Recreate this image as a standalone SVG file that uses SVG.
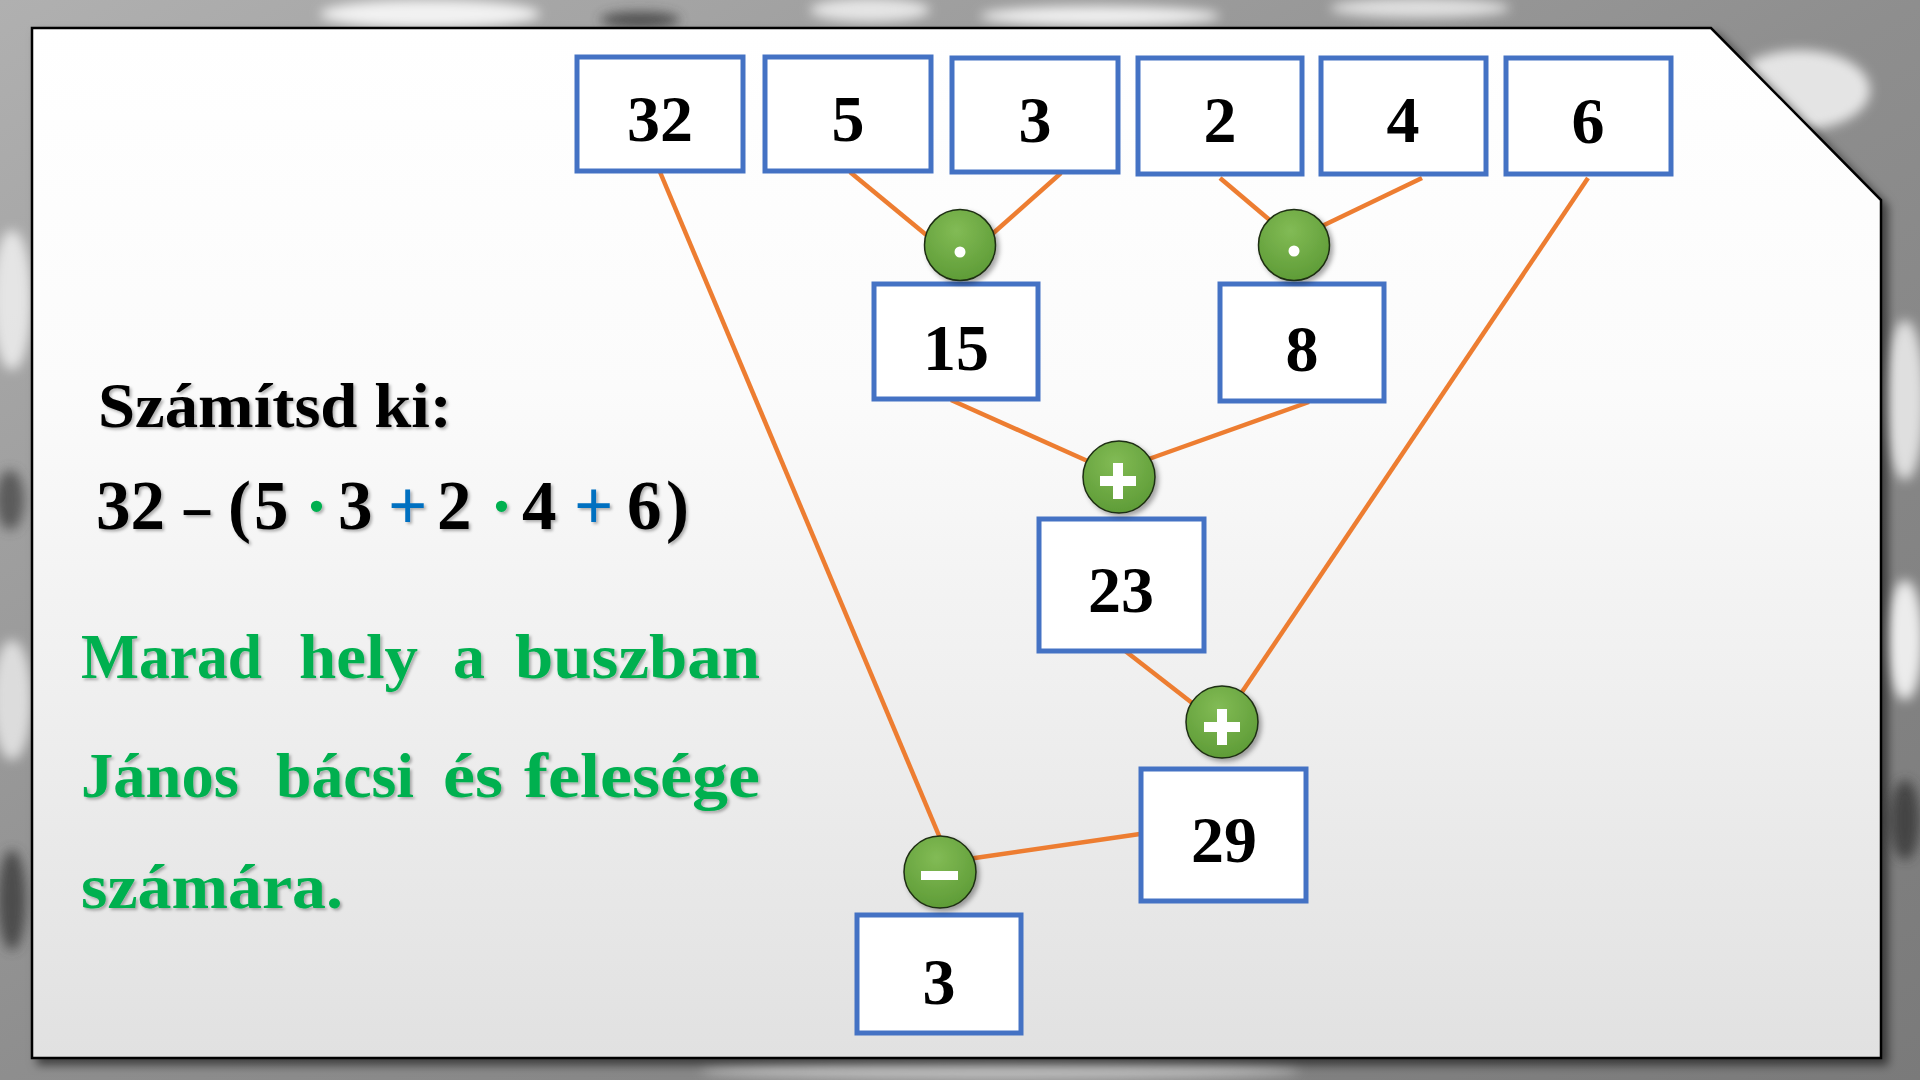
<svg xmlns="http://www.w3.org/2000/svg" width="1920" height="1080" viewBox="0 0 1920 1080">
<defs>
<linearGradient id="bg" x1="0" y1="0" x2="1" y2="1">
<stop offset="0" stop-color="#b0b0b0"/><stop offset="0.5" stop-color="#8e8e8e"/><stop offset="1" stop-color="#7a7a7a"/>
</linearGradient>
<linearGradient id="panel" x1="0" y1="0" x2="0" y2="1">
<stop offset="0" stop-color="#ffffff"/><stop offset="0.35" stop-color="#fbfbfb"/><stop offset="1" stop-color="#e1e1e1"/>
</linearGradient>
<radialGradient id="ball" cx="0.45" cy="0.3" r="0.75">
<stop offset="0" stop-color="#82bb55"/><stop offset="1" stop-color="#5c9a35"/>
</radialGradient>
<filter id="blur" x="-50%" y="-50%" width="200%" height="200%"><feGaussianBlur stdDeviation="6"/></filter>
<filter id="pshadow" x="-5%" y="-5%" width="110%" height="110%"><feDropShadow dx="6" dy="6" stdDeviation="5" flood-color="#000" flood-opacity="0.55"/></filter>
<filter id="tshadow" x="-10%" y="-20%" width="120%" height="140%"><feDropShadow dx="2" dy="2" stdDeviation="1.5" flood-color="#000" flood-opacity="0.3"/></filter>
<filter id="cshadow" x="-30%" y="-30%" width="160%" height="160%"><feDropShadow dx="3" dy="3" stdDeviation="2.5" flood-color="#000" flood-opacity="0.35"/></filter>
<style>
.box{fill:#ffffff;stroke:#4472C4;stroke-width:5}
.num{font-family:"Liberation Serif","Times New Roman",serif;font-weight:bold;font-size:66px;fill:#000;text-anchor:middle}
.ball{fill:url(#ball);stroke:#1e2e12;stroke-width:1.5}
.sym{fill:#ffffff}
.con{stroke:#ED7D31;stroke-width:4.5;fill:none;stroke-linecap:butt}
.blk{font-family:"Liberation Serif","Times New Roman",serif;font-weight:bold;font-size:64px;fill:#000}
.eq{font-family:"Liberation Serif","Times New Roman",serif;font-weight:bold;font-size:69px;fill:#000}
.grn{font-family:"Liberation Serif","Times New Roman",serif;font-weight:bold;font-size:63px;fill:#00B050}
</style>
</defs>

<!-- background -->
<rect x="0" y="0" width="1920" height="1080" fill="url(#bg)"/>
<g filter="url(#blur)" opacity="0.85">
<ellipse cx="430" cy="14" rx="110" ry="14" fill="#ffffff"/>
<ellipse cx="870" cy="10" rx="60" ry="12" fill="#f2f2f2"/>
<ellipse cx="1100" cy="16" rx="120" ry="10" fill="#ffffff"/>
<ellipse cx="1420" cy="8" rx="90" ry="10" fill="#eeeeee"/>
<ellipse cx="1800" cy="90" rx="70" ry="40" fill="#f4f4f4"/>
<ellipse cx="1905" cy="400" rx="20" ry="80" fill="#efefef"/>
<ellipse cx="1905" cy="640" rx="18" ry="60" fill="#ffffff"/>
<ellipse cx="12" cy="300" rx="20" ry="70" fill="#f0f0f0"/>
<ellipse cx="12" cy="700" rx="20" ry="60" fill="#e8e8e8"/>
<ellipse cx="1000" cy="1070" rx="300" ry="10" fill="#c8c8c8"/>
<ellipse cx="640" cy="20" rx="40" ry="8" fill="#404040"/>
<ellipse cx="1840" cy="250" rx="30" ry="12" fill="#303030"/>
<ellipse cx="1905" cy="820" rx="15" ry="40" fill="#3a3a3a"/>
<ellipse cx="10" cy="500" rx="14" ry="30" fill="#505050"/>
<ellipse cx="12" cy="900" rx="14" ry="50" fill="#404040"/>
</g>

<!-- panel -->
<path d="M32,28 L1711,28 L1881,200 L1881,1058 L32,1058 Z" fill="url(#panel)" stroke="#000" stroke-width="2.5" filter="url(#pshadow)"/>

<!-- left texts -->
<g id="task" filter="url(#tshadow)">
<text class="blk" x="98" y="427" textLength="354" lengthAdjust="spacingAndGlyphs">Számítsd ki:</text>
<text class="eq" x="184" y="529" textLength="26" lengthAdjust="spacingAndGlyphs">–</text>
<text class="eq" y="529"><tspan x="96">32</tspan><tspan x="228">(</tspan><tspan x="254">5</tspan><tspan x="305" fill="#00B050">·</tspan><tspan x="338">3</tspan><tspan x="388" fill="#0070C0">+</tspan><tspan x="437">2</tspan><tspan x="490" fill="#00B050">·</tspan><tspan x="522">4</tspan><tspan x="574" fill="#0070C0">+</tspan><tspan x="627">6</tspan><tspan x="666">)</tspan></text>
</g>
<g id="answer" filter="url(#tshadow)">
<text class="grn" x="81" y="678" textLength="181" lengthAdjust="spacingAndGlyphs">Marad</text>
<text class="grn" x="299" y="678" textLength="119" lengthAdjust="spacingAndGlyphs">hely</text>
<text class="grn" x="453" y="678" textLength="32" lengthAdjust="spacingAndGlyphs">a</text>
<text class="grn" x="515" y="678" textLength="245" lengthAdjust="spacingAndGlyphs">buszban</text>
<text class="grn" x="81" y="797" textLength="158" lengthAdjust="spacingAndGlyphs">János</text>
<text class="grn" x="276" y="797" textLength="138" lengthAdjust="spacingAndGlyphs">bácsi</text>
<text class="grn" x="443" y="797" textLength="60" lengthAdjust="spacingAndGlyphs">és</text>
<text class="grn" x="524" y="797" textLength="236" lengthAdjust="spacingAndGlyphs">felesége</text>
<text class="grn" x="81" y="908" textLength="262" lengthAdjust="spacingAndGlyphs">számára.</text>
</g>

<!-- connectors -->
<g id="connectors">
<line class="con" x1="660" y1="172" x2="940" y2="838"/>
<line class="con" x1="850" y1="172" x2="930" y2="238"/>
<line class="con" x1="1061" y1="173" x2="990" y2="236"/>
<line class="con" x1="1220" y1="178" x2="1272" y2="222"/>
<line class="con" x1="1422" y1="178" x2="1320" y2="227"/>
<line class="con" x1="1588" y1="178" x2="1240" y2="695"/>
<line class="con" x1="951" y1="400" x2="1092" y2="463"/>
<line class="con" x1="1309" y1="402" x2="1146" y2="460"/>
<line class="con" x1="1124" y1="650" x2="1196" y2="706"/>
<line class="con" x1="1140" y1="834" x2="968" y2="859"/>
</g>

<!-- boxes -->
<g id="n32"><rect class="box" x="577" y="57" width="166" height="114"/><text class="num" x="660" y="141">32</text></g>
<g id="n5"><rect class="box" x="765" y="57" width="166" height="114"/><text class="num" x="848" y="141">5</text></g>
<g id="n3"><rect class="box" x="952" y="58" width="166" height="114"/><text class="num" x="1035" y="142">3</text></g>
<g id="n2"><rect class="box" x="1138" y="58" width="164" height="116"/><text class="num" x="1220" y="142">2</text></g>
<g id="n4"><rect class="box" x="1321" y="58" width="165" height="116"/><text class="num" x="1403" y="142">4</text></g>
<g id="n6"><rect class="box" x="1506" y="58" width="165" height="116"/><text class="num" x="1588" y="143">6</text></g>
<g id="n15"><rect class="box" x="874" y="284" width="164" height="115"/><text class="num" x="956" y="370">15</text></g>
<g id="n8"><rect class="box" x="1220" y="284" width="164" height="117"/><text class="num" x="1302" y="371">8</text></g>
<g id="n23"><rect class="box" x="1039" y="519" width="165" height="132"/><text class="num" x="1121" y="612">23</text></g>
<g id="n29"><rect class="box" x="1141" y="769" width="165" height="132"/><text class="num" x="1224" y="862">29</text></g>
<g id="n3b"><rect class="box" x="857" y="915" width="164" height="118"/><text class="num" x="939" y="1004">3</text></g>

<!-- operators -->
<g id="op-mul1" filter="url(#cshadow)"><circle class="ball" cx="960" cy="245" r="35.5"/><circle class="sym" cx="960" cy="252" r="5.5"/></g>
<g id="op-mul2" filter="url(#cshadow)"><circle class="ball" cx="1294" cy="245" r="35.5"/><circle class="sym" cx="1294" cy="251" r="5.5"/></g>
<g id="op-add1" filter="url(#cshadow)"><circle class="ball" cx="1119" cy="477" r="36"/><path class="sym" d="M1113,463 h10 v13 h13 v10 h-13 v13 h-10 v-13 h-13 v-10 h13 Z"/></g>
<g id="op-add2" filter="url(#cshadow)"><circle class="ball" cx="1222" cy="722" r="36"/><path class="sym" d="M1217,709 h10 v13 h13 v10 h-13 v13 h-10 v-13 h-13 v-10 h13 Z"/></g>
<g id="op-sub" filter="url(#cshadow)"><circle class="ball" cx="940" cy="872" r="36"/><rect class="sym" x="921" y="871" width="37" height="9"/></g>
</svg>
